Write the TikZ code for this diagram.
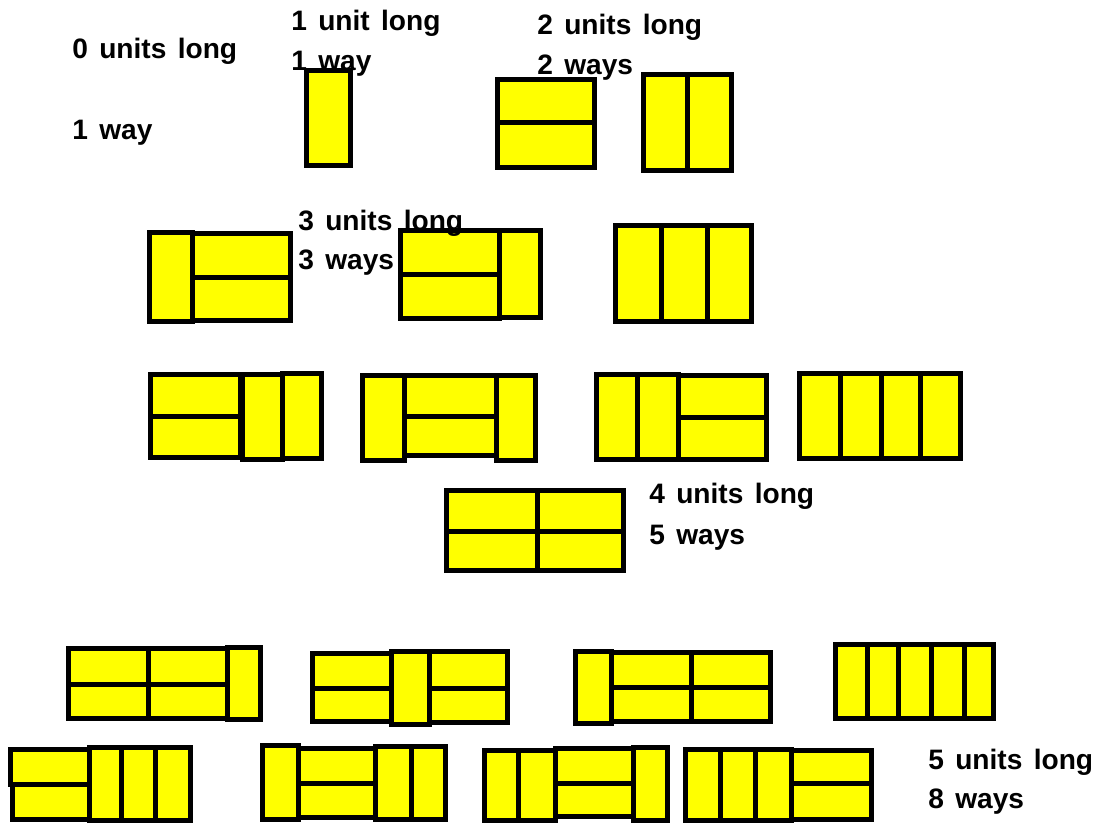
\documentclass[tikz,border=0pt]{standalone}
\usepackage{fontspec}
\setmainfont{Liberation Sans}[WordSpace=1.45]
\usepackage{tikz}
\definecolor{tileyellow}{RGB}{255,255,0}

\begin{document}
\begin{tikzpicture}[x=0.02cm, y=-0.02cm,
    tile/.style={draw=black, fill=tileyellow, line width=0.1cm},
    every node/.style={anchor=base west, inner sep=0pt, font=\fontsize{16}{19}\selectfont\bfseries}]
  \useasboundingbox (0,0) rectangle (1097,824);
  % 1 unit long
  \draw[tile] (306.5,70.5) rectangle (350.5,165.5);
  % 2 units long
  \draw[tile] (497.5,79.5) rectangle (594.5,123);
  \draw[tile] (497.5,123) rectangle (594.5,167.5);
  \draw[tile] (643.5,74.5) rectangle (687,170.5);
  \draw[tile] (687,74.5) rectangle (731.5,170.5);
  % 3 units long
  \draw[tile] (149.5,232.5) rectangle (192,321.5);
  \draw[tile] (192,233.5) rectangle (290.5,277);
  \draw[tile] (192,277) rectangle (290.5,320.5);
  \draw[tile] (400.5,230.5) rectangle (499,274);
  \draw[tile] (400.5,274) rectangle (499,318.5);
  \draw[tile] (499,230.5) rectangle (540.5,317.5);
  \draw[tile] (615.5,225.5) rectangle (661,321.5);
  \draw[tile] (661,225.5) rectangle (707,321.5);
  \draw[tile] (707,225.5) rectangle (751.5,321.5);
  % 4 units long
  \draw[tile] (150.5,374.5) rectangle (240,416);
  \draw[tile] (150.5,416) rectangle (240,457.5);
  \draw[tile] (242,374.5) rectangle (282,459.5);
  \draw[tile] (282,373) rectangle (321.5,458.5);
  \draw[tile] (362.5,375.5) rectangle (404,460.5);
  \draw[tile] (404,375.5) rectangle (496,416);
  \draw[tile] (404,416) rectangle (496,455.5);
  \draw[tile] (496,375.5) rectangle (535.5,460.5);
  \draw[tile] (596.5,374.5) rectangle (637,459.5);
  \draw[tile] (637,374.5) rectangle (678,459.5);
  \draw[tile] (678,375.5) rectangle (766.5,417);
  \draw[tile] (678,417) rectangle (766.5,459.5);
  \draw[tile] (799.5,373.5) rectangle (840,458.5);
  \draw[tile] (840,373.5) rectangle (881,458.5);
  \draw[tile] (881,373.5) rectangle (920,458.5);
  \draw[tile] (920,373.5) rectangle (960.5,458.5);
  \draw[tile] (446.5,490.5) rectangle (537,531);
  \draw[tile] (537,490.5) rectangle (623.5,531);
  \draw[tile] (446.5,531) rectangle (537,570.5);
  \draw[tile] (537,531) rectangle (623.5,570.5);
  % 5 units long, top row
  \draw[tile] (68.5,648.5) rectangle (148,684);
  \draw[tile] (148,648.5) rectangle (227,684);
  \draw[tile] (68.5,684) rectangle (148,718.5);
  \draw[tile] (148,684) rectangle (227,718.5);
  \draw[tile] (227,647.5) rectangle (260.5,719.5);
  \draw[tile] (312.5,653.5) rectangle (391,688);
  \draw[tile] (312.5,688) rectangle (391,721.5);
  \draw[tile] (391,651.5) rectangle (429,724.5);
  \draw[tile] (429,651.5) rectangle (507.5,688);
  \draw[tile] (429,688) rectangle (507.5,722.5);
  \draw[tile] (575.5,651.5) rectangle (611,723.5);
  \draw[tile] (611,652.5) rectangle (691,687);
  \draw[tile] (691,652.5) rectangle (770.5,687);
  \draw[tile] (611,687) rectangle (691,721.5);
  \draw[tile] (691,687) rectangle (770.5,721.5);
  \draw[tile] (835.5,644.5) rectangle (867,718.5);
  \draw[tile] (867,644.5) rectangle (898,718.5);
  \draw[tile] (898,644.5) rectangle (931,718.5);
  \draw[tile] (931,644.5) rectangle (964,718.5);
  \draw[tile] (964,644.5) rectangle (993.5,718.5);
  % 5 units long, bottom row
  \draw[tile] (10.5,749.5) rectangle (89,784);
  \draw[tile] (12.5,784) rectangle (90,819.5);
  \draw[tile] (89,747.5) rectangle (121,820.5);
  \draw[tile] (121,747.5) rectangle (155,820.5);
  \draw[tile] (155,747.5) rectangle (190.5,820.5);
  \draw[tile] (262.5,745.5) rectangle (298,819.5);
  \draw[tile] (298,748.5) rectangle (375,783);
  \draw[tile] (298,783) rectangle (375,817.5);
  \draw[tile] (375,746.5) rectangle (411,819.5);
  \draw[tile] (411,746.5) rectangle (445.5,819.5);
  \draw[tile] (484.5,750.5) rectangle (518,820.5);
  \draw[tile] (518,750.5) rectangle (555,820.5);
  \draw[tile] (555,748.5) rectangle (633,783);
  \draw[tile] (555,783) rectangle (633,816.5);
  \draw[tile] (633,747.5) rectangle (667.5,820.5);
  \draw[tile] (685.5,749.5) rectangle (720,820.5);
  \draw[tile] (720,749.5) rectangle (755,820.5);
  \draw[tile] (755,749.5) rectangle (791,820.5);
  \draw[tile] (791,750.5) rectangle (871.5,783);
  \draw[tile] (791,783) rectangle (871.5,819.5);
  % Labels
  \node (len0) at (72,59) {0 units long};
  \node (way0) at (72,140) {1 way};
  \node (len1) at (291,31) {1 unit long};
  \node (way1) at (291,71) {1 way};
  \node (len2) at (537,35) {2 units long};
  \node (way2) at (537,75) {2 ways};
  \node (len3) at (298,230) {3 units long};
  \node (way3) at (298,269) {3 ways};
  \node (len4) at (649,503) {4 units long};
  \node (way4) at (649,544) {5 ways};
  \node (len5) at (928,769) {5 units long};
  \node (way5) at (928,808) {8 ways};
\end{tikzpicture}
\end{document}
